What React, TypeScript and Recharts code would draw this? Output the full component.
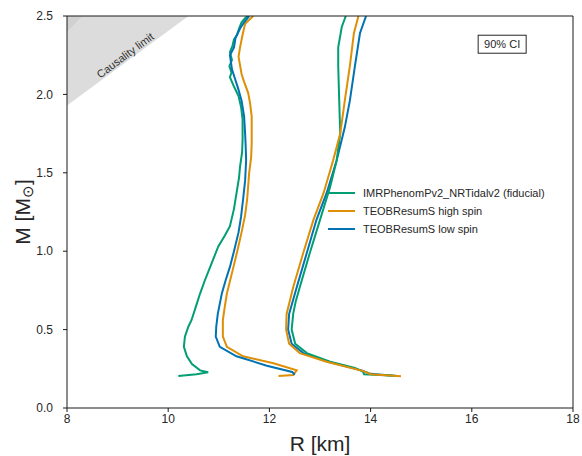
import React from "react";
import {
  ComposedChart, Line, Area, Scatter, XAxis, YAxis, ReferenceLine,
} from "recharts";

type P = { r: number; m: number };
const mk = (a: number[][]): P[] => a.map(([r, m]) => ({ r, m }));

const xTicks = [8, 10, 12, 14, 16, 18];
const yTicks = [0, 0.5, 1.0, 1.5, 2.0, 2.5];

const seriesNames = [
  "IMRPhenomPv2_NRTidalv2 (fiducial)",
  "TEOBResumS high spin",
  "TEOBResumS low spin",
];
const seriesColors = ["#029e73", "#de8f05", "#0173b2"];

const greenLeft = mk([
  [10.2, 0.204], [10.56, 0.215], [10.79, 0.228], [10.63, 0.24], [10.47, 0.28], [10.37, 0.33], [10.31, 0.39],
  [10.33, 0.455], [10.4, 0.52], [10.46, 0.56], [10.55, 0.65], [10.63, 0.73], [10.72, 0.81],
  [10.83, 0.9], [10.99, 1.03], [11.12, 1.1], [11.22, 1.16], [11.3, 1.27], [11.35, 1.37],
  [11.4, 1.47], [11.42, 1.54], [11.46, 1.63], [11.47, 1.71], [11.47, 1.84], [11.44, 1.92],
  [11.39, 1.99], [11.3, 2.05], [11.22, 2.11], [11.25, 2.14], [11.21, 2.18], [11.26, 2.22],
  [11.22, 2.27], [11.27, 2.31], [11.3, 2.35], [11.36, 2.38], [11.4, 2.42], [11.45, 2.46],
  [11.53, 2.49], [11.58, 2.5],
]);
const orangeLeft = mk([
  [12.18, 0.204], [12.47, 0.21], [12.54, 0.24], [12.08, 0.285], [11.48, 0.33], [11.16, 0.39],
  [11.08, 0.455], [11.08, 0.56], [11.12, 0.65], [11.16, 0.73], [11.29, 0.9], [11.38, 1.02],
  [11.45, 1.12], [11.52, 1.23], [11.56, 1.33], [11.6, 1.5], [11.64, 1.6], [11.65, 1.69],
  [11.65, 1.86], [11.62, 1.94], [11.58, 2.01], [11.5, 2.08], [11.45, 2.13], [11.39, 2.24],
  [11.42, 2.3], [11.47, 2.38], [11.52, 2.45], [11.68, 2.5],
]);
const blueLeft = mk([
  [12.5, 0.212], [12.45, 0.23], [11.95, 0.27], [11.35, 0.33], [11.02, 0.39], [10.94, 0.455],
  [10.95, 0.52], [10.98, 0.6], [11.06, 0.73], [11.14, 0.82], [11.22, 0.9], [11.3, 1.0],
  [11.39, 1.12], [11.44, 1.22], [11.48, 1.33], [11.52, 1.45], [11.54, 1.58], [11.53, 1.68],
  [11.52, 1.75], [11.5, 1.86], [11.45, 1.96], [11.38, 2.04], [11.32, 2.1], [11.26, 2.16],
  [11.22, 2.25], [11.3, 2.3], [11.33, 2.36], [11.42, 2.42], [11.5, 2.46], [11.6, 2.5],
]);
const greenRight = mk([
  [14.5, 0.205], [13.87, 0.215], [13.85, 0.232], [13.69, 0.255], [13.2, 0.295], [12.74, 0.35],
  [12.51, 0.41], [12.44, 0.5], [12.47, 0.6], [12.52, 0.68], [12.6, 0.77], [12.8, 0.99],
  [13.0, 1.2], [13.2, 1.41], [13.33, 1.58], [13.4, 1.75], [13.39, 1.85], [13.38, 1.96],
  [13.36, 2.18], [13.36, 2.3], [13.43, 2.43], [13.51, 2.5],
]);
const orangeRight = mk([
  [14.6, 0.202], [14.0, 0.215], [13.86, 0.235], [13.13, 0.295], [12.6, 0.35], [12.39, 0.41],
  [12.33, 0.5], [12.34, 0.6], [12.47, 0.77], [12.67, 0.99], [12.87, 1.2], [13.07, 1.37],
  [13.26, 1.58], [13.4, 1.75], [13.49, 1.96], [13.59, 2.18], [13.67, 2.39], [13.76, 2.5],
]);
const blueRight = mk([
  [14.45, 0.205], [14.0, 0.218], [13.82, 0.24], [13.16, 0.295], [12.67, 0.35], [12.44, 0.41],
  [12.37, 0.5], [12.39, 0.6], [12.54, 0.77], [12.74, 0.99], [12.93, 1.2], [13.13, 1.37],
  [13.33, 1.58], [13.49, 1.79], [13.59, 1.96], [13.69, 2.18], [13.79, 2.39], [13.91, 2.5],
]);

const causality = [
  { r: 8, lo: 1.93, hi: 2.5 },
  { r: 10.4, lo: 2.5, hi: 2.5 },
];
const causalityCorner = [
  { r: 8, lo: 2.4, hi: 2.5 },
  { r: 8.3, lo: 2.5, hi: 2.5 },
];
const causalityLabel = [{ r: 9.15, m: 2.25 }];
const ciLabel = [{ r: 16.6, m: 2.32 }];

const FONT = "'Liberation Sans', Arial, sans-serif";
const axisColor = "#1a1a1a";

const lines: { data: P[]; color: string }[] = [
  { data: greenLeft, color: seriesColors[0] },
  { data: blueRight, color: seriesColors[2] },
  { data: greenRight, color: seriesColors[0] },
  { data: orangeLeft, color: seriesColors[1] },
  { data: orangeRight, color: seriesColors[1] },
  { data: blueLeft, color: seriesColors[2] },
];

const LegendBox = () => (
  <svg width={250} height={60} style={{ position: "absolute", left: 328, top: 184, display: "block" }}>
    {seriesNames.map((n, i) => (
      <g key={n}>
        <line x1={0} x2={27} y1={9 + i * 18} y2={9 + i * 18} stroke={seriesColors[i]} strokeWidth={2} />
        <text x={35} y={9 + i * 18} dy="0.35em" fontSize={11} fontFamily={FONT} fill="#262626">{n}</text>
      </g>
    ))}
  </svg>
);

export default function App() {
  return (
    <div style={{ position: "absolute", left: 0, top: 0, width: 582, height: 456, background: "#fff" }}>
      <ComposedChart width={582} height={456} margin={{ top: 16, right: 9, bottom: 0, left: 0 }}>
        <XAxis
          dataKey="r" type="number" domain={[8, 18]} ticks={xTicks} allowDataOverflow
          height={48} tickSize={4} tickMargin={2}
          stroke={axisColor} tick={{ fill: "#262626", fontSize: 12, fontFamily: FONT }}
          label={{
            content: (p: any) => {
              const vb = p.viewBox;
              const cx = vb.x + vb.width / 2;
              return (
                <text x={cx} y={443} textAnchor="middle" dominantBaseline="central" fontSize={21} fontFamily={FONT} fill="#262626">
                  R [km]
                </text>
              );
            },
          }}
        />
        <YAxis
          type="number" domain={[0, 2.5]} ticks={yTicks} allowDataOverflow
          width={67} tickSize={4} tickMargin={10}
          tickFormatter={(v: number) => v.toFixed(1)}
          stroke={axisColor} tick={{ fill: "#262626", fontSize: 12, fontFamily: FONT }}
          label={{
            content: (p: any) => {
              const vb = p.viewBox;
              const cx = 22;
              const cy = vb.y + vb.height / 2;
              return (
                <text x={cx} y={cy} transform={`rotate(-90 ${cx} ${cy})`} textAnchor="middle" dominantBaseline="central" fontSize={21} fontFamily={FONT} fill="#262626">
                  M [M<tspan fontSize={15} dy={5}>⊙</tspan><tspan dy={-5}>]</tspan>
                </text>
              );
            },
          }}
        />
        <Area data={causality} dataKey={(d: any) => [d.lo, d.hi]} type="linear" stroke="none" fill="#dcdcdc" fillOpacity={1} isAnimationActive={false} legendType="none" />
        <Area data={causalityCorner} dataKey={(d: any) => [d.lo, d.hi]} type="linear" stroke="none" fill="#d0d0d0" fillOpacity={1} isAnimationActive={false} legendType="none" />
        {lines.map((l, i) => (
          <Line key={i} data={l.data} dataKey="m" type="linear" stroke={l.color} strokeWidth={2} dot={false} activeDot={false} isAnimationActive={false} legendType="none" />
        ))}
        <Scatter
          data={causalityLabel} dataKey="m" isAnimationActive={false} legendType="none"
          shape={(p: any) => (
            <text x={p.cx} y={p.cy} transform={`rotate(-36.6 ${p.cx} ${p.cy})`} textAnchor="middle" dominantBaseline="central" fontSize={11} fontFamily={FONT} fill="#333">
              Causality limit
            </text>
          )}
        />
        <Scatter
          data={ciLabel} dataKey="m" isAnimationActive={false} legendType="none"
          shape={(p: any) => (
            <g>
              <rect x={p.cx - 24} y={p.cy - 9} width={48} height={18} fill="#fff" stroke="#262626" strokeWidth={1} />
              <text x={p.cx} y={p.cy} textAnchor="middle" dominantBaseline="central" fontSize={11} fontFamily={FONT} fill="#262626">90% CI</text>
            </g>
          )}
        />
        <ReferenceLine y={2.5} stroke={axisColor} strokeWidth={1} />
        <ReferenceLine x={18} stroke={axisColor} strokeWidth={1} />
      </ComposedChart>
      <LegendBox />
    </div>
  );
}
